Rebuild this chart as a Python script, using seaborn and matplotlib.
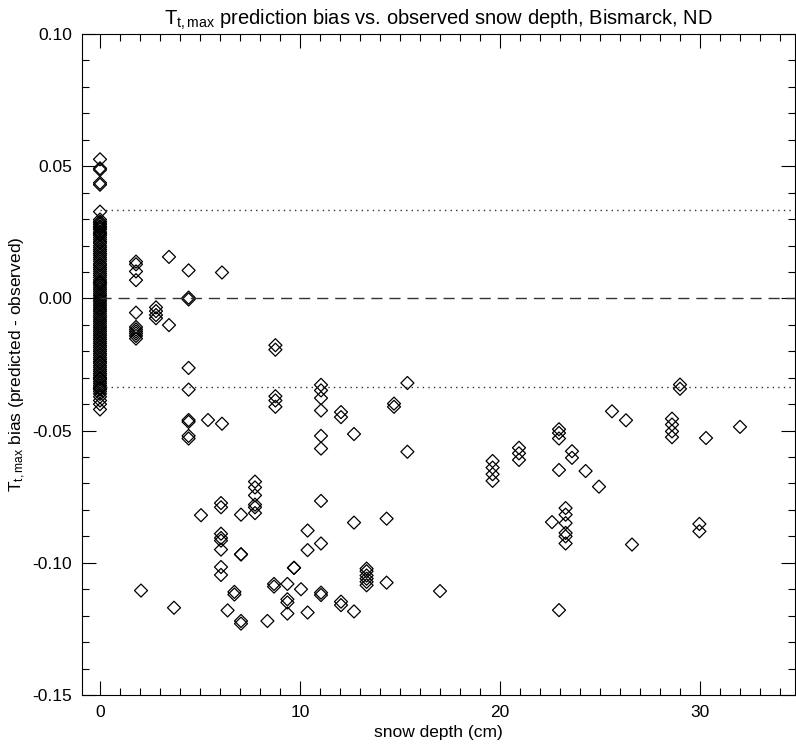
#!/usr/bin/env python3

# plot.py
#
# Tmax prediction bias against observed snow depth at Bismarck, ND.
import matplotlib
matplotlib.use('Agg')
import matplotlib.pyplot as plt
import matplotlib.ticker as ticker
import pandas as pd
import seaborn as sb

# Bias values for the days with no snow on the ground
zero_depth_bias = [
  0.0526, 0.0492, 0.0486, 0.0437, 0.0430, 0.0328, 0.0298, 0.0290, 0.0285, 0.0279,
  0.0272, 0.0270, 0.0266, 0.0260, 0.0251, 0.0245, 0.0240, 0.0238, 0.0230, 0.0222,
  0.0214, 0.0209, 0.0200, 0.0193, 0.0185, 0.0178, 0.0170, 0.0163, 0.0155, 0.0148,
  0.0140, 0.0131, 0.0125, 0.0117, 0.0110, 0.0102, 0.0094, 0.0087, 0.0079, 0.0070,
  0.0062, 0.0060, 0.0055, 0.0048, 0.0040, 0.0033, 0.0025, 0.0017, 0.0010, 0.0002,
  -0.0006, -0.0013, -0.0021, -0.0028, -0.0036, -0.0043, -0.0050, -0.0058, -0.0066, -0.0073,
  -0.0081, -0.0088, -0.0096, -0.0104, -0.0111, -0.0119, -0.0126, -0.0134, -0.0141, -0.0149,
  -0.0156, -0.0164, -0.0171, -0.0179, -0.0186, -0.0194, -0.0201, -0.0209, -0.0216, -0.0224,
  -0.0231, -0.0239, -0.0240, -0.0246, -0.0254, -0.0261, -0.0269, -0.0276, -0.0284, -0.0291,
  -0.0299, -0.0302, -0.0306, -0.0314, -0.0321, -0.0329, -0.0336, -0.0340, -0.0344, -0.0352,
  -0.0361, -0.0372, -0.0386, -0.0400, -0.0420
]

# Snow covered days, depth (cm) and matching bias
snow_depth = [
  1.8, 1.8, 1.8, 1.8, 1.8, 1.8, 1.8, 1.8, 1.8, 1.8, 1.8,
  2.05,
  2.8, 2.8, 2.8, 2.8,
  3.45, 3.45,
  3.7,
  4.43, 4.43, 4.43, 4.43, 4.43, 4.43, 4.43, 4.43, 4.43,
  5.05, 5.4,
  6.1, 6.1,
  6.05, 6.05, 6.05, 6.05, 6.05, 6.05, 6.05, 6.05,
  6.38, 6.72, 6.72,
  7.05, 7.05, 7.05, 7.05, 7.05,
  7.75, 7.75, 7.75, 7.75, 7.75, 7.75,
  8.37,
  8.77, 8.77, 8.77, 8.77, 8.77,
  8.7, 8.7,
  9.37, 9.37, 9.37, 9.37,
  9.7, 9.7,
  10.05,
  10.38, 10.38, 10.38,
  11.05, 11.05, 11.05, 11.05, 11.05, 11.05, 11.05, 11.05, 11.05, 11.05,
  12.05, 12.05, 12.05, 12.05,
  12.7, 12.7, 12.7,
  13.33, 13.33, 13.33, 13.33, 13.33, 13.33,
  14.33, 14.33,
  14.7, 14.7,
  15.37, 15.37,
  17.0,
  19.63, 19.63, 19.63, 19.63,
  20.95, 20.95, 20.95,
  22.6,
  22.95, 22.95, 22.95, 22.95, 22.95,
  23.28, 23.28, 23.28, 23.28, 23.28, 23.28,
  23.6, 23.6,
  24.28, 24.95, 25.6, 26.3, 26.6,
  28.6, 28.6, 28.6, 28.6,
  29.0, 29.0,
  29.97, 29.97,
  30.3, 32.0
]
snow_bias = [
  0.0139, 0.0129, 0.0102, 0.0069, -0.0054, -0.0108, -0.0117, -0.0125, -0.0133, -0.0142, -0.0152,
  -0.1105,
  -0.0034, -0.0048, -0.0063, -0.0075,
  0.0157, -0.0101,
  -0.1170,
  0.0106, 0.0003, -0.0004, -0.0263, -0.0345, -0.0460, -0.0467, -0.0520, -0.0530,
  -0.0820, -0.0460,
  0.0098, -0.0474,
  -0.0774, -0.0790, -0.0890, -0.0906, -0.0916, -0.0950, -0.1016, -0.1046,
  -0.1180, -0.1110, -0.1120,
  -0.0818, -0.0968, -0.0968, -0.1220, -0.1230,
  -0.0693, -0.0715, -0.0745, -0.0780, -0.0790, -0.0812,
  -0.1220,
  -0.0177, -0.0194, -0.0370, -0.0386, -0.0410,
  -0.1080, -0.1090,
  -0.1080, -0.1138, -0.1150, -0.1192,
  -0.1019, -0.1019,
  -0.1100,
  -0.0878, -0.0952, -0.1188,
  -0.0327, -0.0348, -0.0377, -0.0424, -0.0520, -0.0568, -0.0766, -0.0927, -0.1113, -0.1122,
  -0.0430, -0.0449, -0.1147, -0.1160,
  -0.0513, -0.0848, -0.1184,
  -0.1022, -0.1032, -0.1048, -0.1060, -0.1072, -0.1085,
  -0.0833, -0.1075,
  -0.0398, -0.0410,
  -0.0320, -0.0580,
  -0.1107,
  -0.0615, -0.0640, -0.0665, -0.0690,
  -0.0565, -0.0586, -0.0611,
  -0.0846,
  -0.0495, -0.0509, -0.0530, -0.0649, -0.1179,
  -0.0793, -0.0818, -0.0850, -0.0887, -0.0900, -0.0927,
  -0.0578, -0.0603,
  -0.0653, -0.0712, -0.0427, -0.0461, -0.0931,
  -0.0455, -0.0477, -0.0503, -0.0525,
  -0.0326, -0.0342,
  -0.0853, -0.0881,
  -0.0528, -0.0486
]

# Reference lines: zero bias and one standard deviation either side
ZERO_LINE = 0.0
SIGMA = 0.0335

X_RANGE = [-0.9, 34.75]
Y_RANGE = [-0.15, 0.10]


def main():
  # Assemble the data frame
  data = pd.DataFrame({
    'depth': [0.0] * len(zero_depth_bias) + snow_depth,
    'bias': zero_depth_bias + snow_bias
  })

  sb.set_style('ticks')
  plt.rcParams['font.family'] = ['Liberation Sans', 'DejaVu Sans']
  plt.rcParams['mathtext.fontset'] = 'custom'
  plt.rcParams['mathtext.rm'] = 'Liberation Sans'
  plt.rcParams['mathtext.it'] = 'Liberation Sans'
  plt.rcParams['text.color'] = 'black'
  plt.rcParams['axes.labelcolor'] = 'black'

  figure = plt.figure(figsize=(7.96, 7.45), dpi=100)
  axis = figure.add_axes([82 / 796, 1 - 695 / 745, 713 / 796, 661 / 745])

  sb.scatterplot(data=data, x='depth', y='bias', marker='D', s=44,
                 facecolors='none', edgecolors='black', linewidth=0.9, ax=axis)

  # Reference lines
  axis.plot([0, X_RANGE[1]], [ZERO_LINE, ZERO_LINE], color='#333333', lw=1.0, dashes=(8, 5))
  axis.plot([0, X_RANGE[1]], [SIGMA, SIGMA], color='#333333', lw=1.0, dashes=(1, 3))
  axis.plot([0, X_RANGE[1]], [-SIGMA, -SIGMA], color='#333333', lw=1.0, dashes=(1, 3))

  # Axis formatting, IDL style ticks on every side
  axis.set_xlim(X_RANGE)
  axis.set_ylim(Y_RANGE)
  axis.xaxis.set_major_locator(ticker.MultipleLocator(10))
  axis.xaxis.set_minor_locator(ticker.MultipleLocator(1))
  axis.yaxis.set_major_locator(ticker.MultipleLocator(0.05))
  axis.yaxis.set_minor_locator(ticker.MultipleLocator(0.01))
  axis.yaxis.set_major_formatter(ticker.FormatStrFormatter('%.2f'))
  axis.tick_params(which='both', direction='in', top=True, right=True, width=0.8,
                   labelsize=12.5, colors='black')
  axis.tick_params(which='major', length=10, pad=7)
  axis.tick_params(which='minor', length=5)
  for spine in axis.spines.values():
    spine.set_linewidth(0.8)
    spine.set_color('black')

  axis.set_title(r'$\mathrm{T_{t,max}}$ prediction bias vs. observed snow depth, Bismarck, ND',
                 fontsize=14.5, pad=7)
  axis.set_xlabel('snow depth (cm)', fontsize=12.5, labelpad=4)
  axis.set_ylabel(r'$\mathrm{T_{t,max}}$ bias (predicted - observed)', fontsize=12.5, labelpad=3)

  plt.savefig('out.png', dpi=100)
  plt.close()


if __name__ == '__main__':
  main()
